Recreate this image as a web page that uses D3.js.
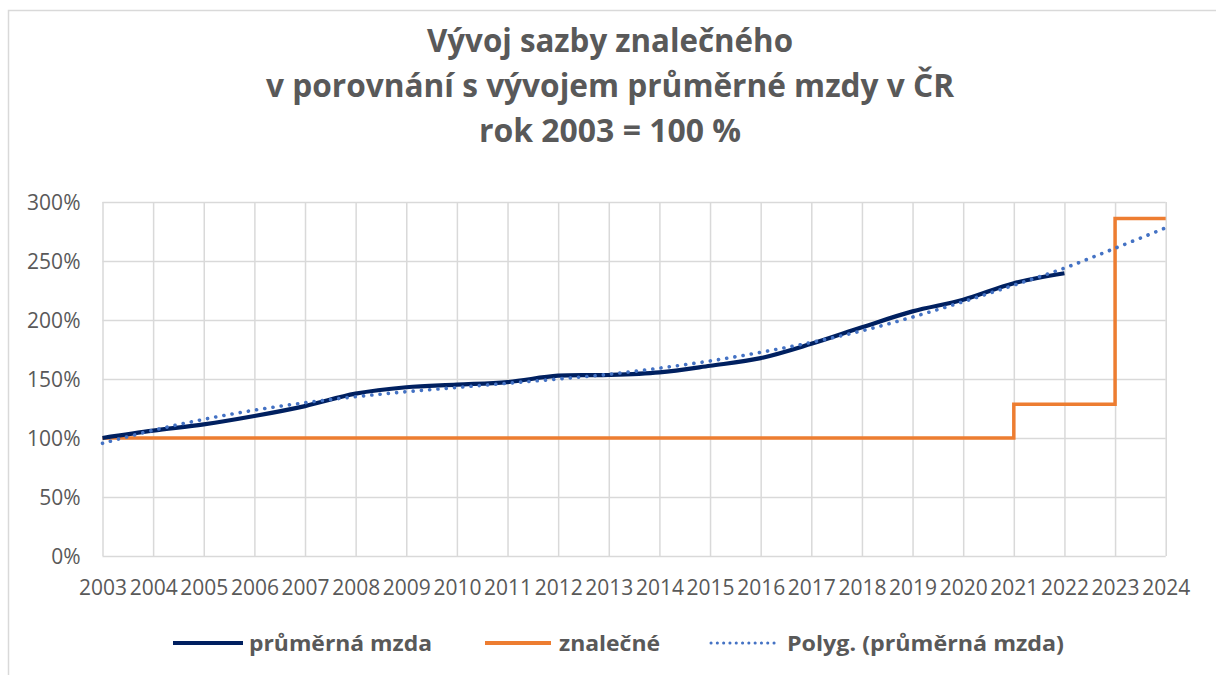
<html>
<head>
<meta charset="utf-8">
<script src="https://d3js.org/d3.v7.min.js"></script>
<style>
  body { margin: 0; background: #fff; }
  text { font-family: "Open Sans", "Liberation Sans", sans-serif; fill: #595959; }
</style>
</head>
<body>
<div id="chart_area"></div>
<script>
// data
let years = [2003, 2004, 2005, 2006, 2007, 2008, 2009, 2010, 2011, 2012, 2013,
             2014, 2015, 2016, 2017, 2018, 2019, 2020, 2021, 2022, 2023, 2024];
let wageYears = [2003, 2004, 2005, 2006, 2007, 2008, 2009, 2010, 2011, 2012, 2013,
                 2014, 2015, 2016, 2017, 2018, 2019, 2020, 2021, 2022];
let wage = [1.00, 1.062, 1.115, 1.186, 1.27, 1.376, 1.43, 1.452, 1.474, 1.528, 1.534,
            1.556, 1.612, 1.677, 1.798, 1.938, 2.073, 2.171, 2.312, 2.396];
let fee = [1.00, 1.00, 1.00, 1.00, 1.00, 1.00, 1.00, 1.00, 1.00, 1.00, 1.00,
           1.00, 1.00, 1.00, 1.00, 1.00, 1.00, 1.00, 1.285, 1.285, 2.86, 2.86];
let trend = [0.955, 1.065, 1.158, 1.236, 1.299, 1.35, 1.392, 1.428, 1.464, 1.50, 1.54,
             1.592, 1.653, 1.726, 1.81, 1.908, 2.025, 2.155, 2.295, 2.44, 2.608, 2.781];
let yTicks = [0, 0.5, 1, 1.5, 2, 2.5, 3];
let titleLines = ["Vývoj sazby znalečného", "v porovnání s vývojem průměrné mzdy v ČR", "rok 2003 = 100 %"];
let seriesNames = ["průměrná mzda", "znalečné", "Polyg. (průměrná mzda)"];

let width = 1216;
let height = 675;

let svg = d3.select("#chart_area").append("svg")
    .attr("width", width)
    .attr("height", height);

// chart frame
svg.append("rect")
    .attr("x", 8.5).attr("y", 10.5)
    .attr("width", 1400).attr("height", 900)
    .attr("fill", "#fff")
    .attr("stroke", "#d9d9d9")
    .attr("stroke-width", 1.5);

// title
let titleWidths = [366, 688, 262];
svg.selectAll(".title")
    .data(titleLines)
    .join("text")
    .attr("class", "title")
    .attr("x", 610)
    .attr("y", (d, i) => 52 + i * 45)
    .attr("text-anchor", "middle")
    .attr("textLength", (d, i) => titleWidths[i])
    .attr("lengthAdjust", "spacingAndGlyphs")
    .style("font-size", "32px")
    .style("font-weight", "bold")
    .text(d => d);

let x = d3.scaleLinear().domain([2003, 2024]).range([102.5, 1165.7]);
let y = d3.scaleLinear().domain([0, 3]).range([556, 202]);

// horizontal grid
let yAxis = svg.append("g")
    .attr("transform", "translate(102.5,0)")
    .call(d3.axisLeft(y).tickValues(yTicks).tickSize(-(1165.7 - 102.5)).tickFormat(d => Math.round(d * 100) + "%"));
yAxis.select(".domain").remove();
yAxis.selectAll("line").attr("stroke", "#d9d9d9").attr("stroke-width", 1.5);
yAxis.selectAll("text")
    .attr("x", -22)
    .attr("dy", "0.36em")
    .style("font-size", "21px")
    .style("font-family", "'Open Sans', sans-serif");

// vertical grid
let xAxis = svg.append("g")
    .attr("transform", "translate(0,556)")
    .call(d3.axisBottom(x).tickValues(years).tickSize(-(556 - 202)).tickFormat(d => d));
xAxis.select(".domain").remove();
xAxis.selectAll("line").attr("stroke", "#d9d9d9").attr("stroke-width", 1.5);
xAxis.selectAll("text")
    .attr("y", 39)
    .attr("dy", 0)
    .attr("textLength", 48)
    .attr("lengthAdjust", "spacingAndGlyphs")
    .style("font-size", "21px")
    .style("font-family", "'Open Sans', sans-serif");
svg.selectAll(".tick text").attr("fill", "#595959");

// series
let feeLine = d3.line()
    .x((d, i) => x(years[i]))
    .y(d => y(d))
    .curve(d3.curveStepAfter);

svg.append("path")
    .datum(fee)
    .attr("d", feeLine)
    .attr("fill", "none")
    .attr("stroke", "#ed7d31")
    .attr("stroke-width", 3.5);

let wageLine = d3.line()
    .x((d, i) => x(wageYears[i]))
    .y(d => y(d))
    .curve(d3.curveCatmullRom);

svg.append("path")
    .datum(wage)
    .attr("d", wageLine)
    .attr("fill", "none")
    .attr("stroke", "#002060")
    .attr("stroke-width", 4.2)
    .attr("stroke-linejoin", "round");

let trendLine = d3.line()
    .x((d, i) => x(years[i]))
    .y(d => y(d))
    .curve(d3.curveCatmullRom);

svg.append("path")
    .datum(trend)
    .attr("d", trendLine)
    .attr("fill", "none")
    .attr("stroke", "#4472c4")
    .attr("stroke-width", 3.6)
    .attr("stroke-linecap", "round")
    .attr("stroke-dasharray", "0.1 8.2");

// legend
let legend = [
    {name: seriesNames[0], x1: 173, x2: 243, tx: 249, tw: 183, color: "#002060", dash: null, w: 4},
    {name: seriesNames[1], x1: 485, x2: 551, tx: 559, tw: 101, color: "#ed7d31", dash: null, w: 4},
    {name: seriesNames[2], x1: 711, x2: 777, tx: 787, tw: 277, color: "#4472c4", dash: "0.1 6.2", w: 3}
];
let lg = svg.selectAll(".legend")
    .data(legend)
    .join("g")
    .attr("class", "legend");
lg.append("line")
    .attr("x1", d => d.x1).attr("x2", d => d.x2)
    .attr("y1", 643).attr("y2", 643)
    .attr("stroke", d => d.color)
    .attr("stroke-width", d => d.w)
    .attr("stroke-linecap", d => d.dash ? "round" : "butt")
    .attr("stroke-dasharray", d => d.dash);
lg.append("text")
    .attr("x", d => d.tx)
    .attr("y", 651)
    .attr("textLength", d => d.tw)
    .attr("lengthAdjust", "spacingAndGlyphs")
    .style("font-size", "22px")
    .style("font-weight", "bold")
    .text(d => d.name);
</script>
</body>
</html>
